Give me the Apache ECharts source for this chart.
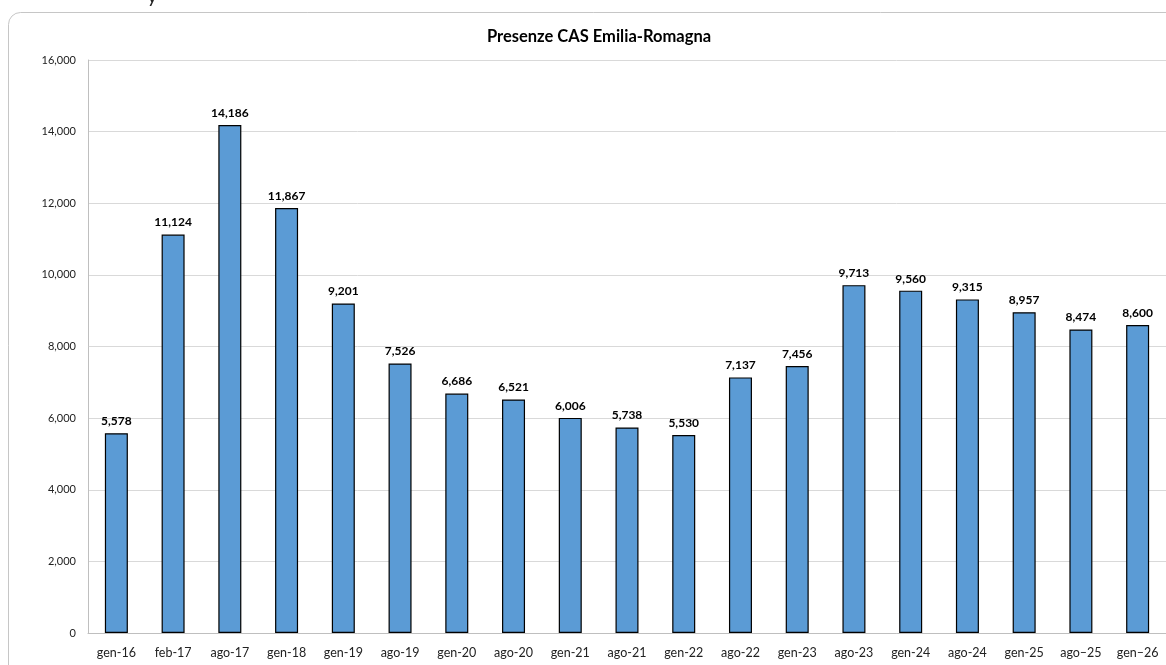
<!DOCTYPE html>
<html>
<head>
<meta charset="utf-8">
<style>
  html, body { margin: 0; padding: 0; background: #fff; }
  #chart { width: 1166px; height: 665px; }
</style>
<script src="https://cdn.jsdelivr.net/npm/echarts@6/dist/echarts.min.js"></script>
</head>
<body>
<div id="chart"></div>
<script>
// Presenze nei Centri di Accoglienza Straordinaria, Emilia-Romagna
const categories = ['gen-16', 'feb-17', 'ago-17', 'gen-18', 'gen-19', 'ago-19', 'gen-20', 'ago-20',
  'gen-21', 'ago-21', 'gen-22', 'ago-22', 'gen-23', 'ago-23', 'gen-24', 'ago-24', 'gen-25', 'ago–25', 'gen–26'];
const presenze = [5578, 11124, 14186, 11867, 9201, 7526, 6686, 6521, 6006, 5738, 5530, 7137, 7456,
  9713, 9560, 9315, 8957, 8474, 8600];
const yTicks = { min: 0, max: 16000, interval: 2000 };

const fmt = v => Number(v).toLocaleString('en-US');
const FONT = 'Lato, "Open Sans", sans-serif';

const chart = echarts.init(document.getElementById('chart'), null, { renderer: 'canvas' });
chart.setOption({
  animation: false,
  backgroundColor: '#ffffff',
  title: {
    text: 'Presenze CAS Emilia-Romagna',
    left: 594,
    top: 23,
    textAlign: 'center',
    textStyle: { fontFamily: FONT, fontSize: 16.5, fontWeight: 'bold', color: '#000' }
  },
  graphic: [
    {
      type: 'rect',
      shape: { x: 8.5, y: 12.5, width: 1300, height: 800, r: 12 },
      style: { fill: 'none', stroke: '#c6c6c6', lineWidth: 1 },
      z: 0
    },
    {
      type: 'text',
      left: 147,
      top: -13,
      style: { text: 'y', font: '20px ' + FONT, fill: '#222' }
    }
  ],
  grid: { left: 88, top: 60, width: 1082, height: 573, containLabel: false },
  xAxis: {
    type: 'category',
    data: categories,
    axisLine: { lineStyle: { color: '#bfbfbf', width: 1 } },
    axisTick: { show: false },
    axisLabel: { fontFamily: FONT, fontSize: 12.5, color: '#222', margin: 13, interval: 0 }
  },
  yAxis: {
    type: 'value',
    min: yTicks.min,
    max: yTicks.max,
    interval: yTicks.interval,
    axisLine: { show: true, lineStyle: { color: '#bfbfbf', width: 1 } },
    axisTick: { show: false },
    splitLine: { lineStyle: { color: '#d9d9d9', width: 1 } },
    axisLabel: { fontFamily: FONT, fontSize: 11, color: '#222', margin: 12, formatter: fmt }
  },
  series: [{
    type: 'bar',
    data: presenze,
    barWidth: 23,
    itemStyle: { color: '#5b9bd5', borderColor: '#000', borderWidth: 1.2 },
    label: {
      show: true,
      position: 'top',
      distance: 6,
      fontFamily: FONT,
      fontSize: 12,
      fontWeight: 'bold',
      color: '#000',
      formatter: p => fmt(p.value)
    }
  }]
});
</script>
</body>
</html>
